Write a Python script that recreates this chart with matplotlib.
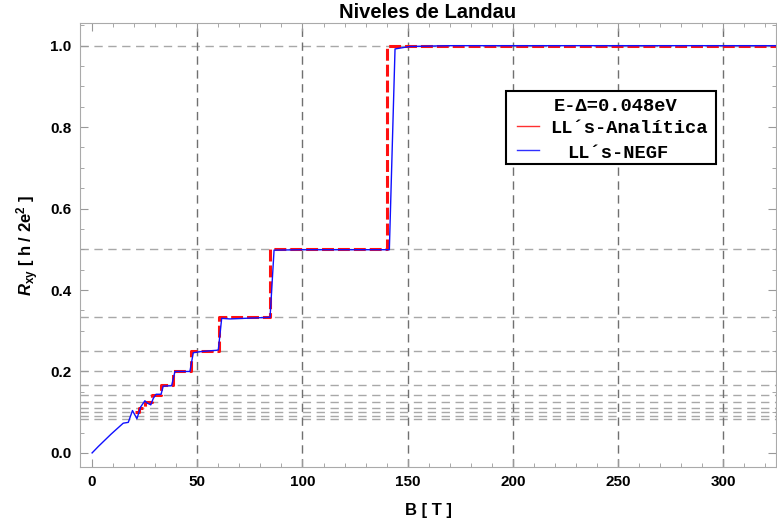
import matplotlib
matplotlib.use("Agg")
import matplotlib.pyplot as plt
from matplotlib.patches import Rectangle
from matplotlib.ticker import MultipleLocator

# Analytic Landau-level steps (step-post): B positions and plateau values
B_analytic = [20.3, 22.2, 25.0, 28.5, 32.7, 38.6, 47.0, 60.5, 84.6, 140.3, 325.0]
R_analytic = [0.100, 0.1111, 0.125, 0.1429, 0.1667, 0.200, 0.250, 0.3333, 0.500, 1.000, 1.000]

# NEGF curve
B_negf = [0.0, 3.0, 6.0, 9.0, 12.0, 14.8, 17.2, 19.2, 21.3, 23.1, 25.1, 26.0, 27.9, 29.1, 30.4,
          32.8, 33.8, 37.8, 39.4, 46.5, 48.1, 52.0, 59.2, 60.0, 61.6, 65.5, 75.0, 84.6,
          86.5, 100.0, 120.0, 141.3, 144.0, 151.0, 170.0, 250.0, 325.0]
R_negf = [0.0, 0.016, 0.031, 0.046, 0.060, 0.073, 0.075, 0.104, 0.084, 0.113, 0.128, 0.123,
          0.118, 0.134, 0.144, 0.144, 0.164, 0.165, 0.200, 0.200, 0.246, 0.249, 0.252, 0.253,
          0.3305, 0.329, 0.331, 0.333, 0.498, 0.499, 0.499, 0.499, 0.992, 0.998, 1.000, 1.000, 1.000]

# Plateau reference lines 1/n
plateaus = [1 / n for n in range(1, 13)]
xticks = [0, 50, 100, 150, 200, 250, 300]
yticks = [0.0, 0.2, 0.4, 0.6, 0.8, 1.0]
vgrid = [50, 100, 150, 200, 250, 300]

legend_title = 'E-\u0394=0.048eV'
legend_labels = ['LL\u00b4s-Anal\u00edtica', 'LL\u00b4s-NEGF']
legend_colors = ['#ff3030', '#3030ff']

plt.rcParams['font.family'] = ['Liberation Sans', 'DejaVu Sans']
plt.rcParams['mathtext.fontset'] = 'custom'
plt.rcParams['mathtext.it'] = 'Liberation Sans:bold:italic'
plt.rcParams['mathtext.rm'] = 'Liberation Sans:bold'
plt.rcParams['mathtext.bf'] = 'Liberation Sans:bold'

W, H = 777, 527
fig = plt.figure(figsize=(W / 100, H / 100), dpi=100)
AX_L, AX_R, AX_T, AX_B = 80, 776, 23, 467
ax = fig.add_axes([AX_L / W, (H - AX_B) / H, (AX_R - AX_L) / W, (AX_B - AX_T) / H])


def axpos(px, py):
    return (px - AX_L) / (AX_R - AX_L), (AX_B - py) / (AX_B - AX_T)


for p in plateaus:
    ax.axhline(p, color='#a8a8a8', lw=1.0, dashes=(6, 4), zorder=1)
for v in vgrid:
    ax.axvline(v, color='#707070', lw=1.0, dashes=(6, 4), zorder=1)

ax.plot(B_negf, R_negf, color='#1010ff', lw=1.0, zorder=3)
ax.plot(B_analytic, R_analytic, color='#ff1010', lw=2.2, dashes=(3.9, 1.3),
        drawstyle='steps-post', zorder=2)

ax.set_xlim(-5.75, 325.1)
ax.set_ylim(-0.0346, 1.0557)
ax.set_xticks(xticks)
ax.set_yticks(yticks)
ax.xaxis.set_minor_locator(MultipleLocator(10))
ax.yaxis.set_minor_locator(MultipleLocator(0.05))
ax.tick_params(which='both', direction='in', top=True, right=True, colors='#999999',
               labelcolor='black', labelsize=11)
ax.tick_params(which='major', length=6, pad=6)
ax.tick_params(which='minor', length=3)
ax.set_xticklabels([str(t) for t in xticks], fontweight='bold')
ax.set_yticklabels([f"{t:.1f}" for t in yticks], fontweight='bold')
for s in ax.spines.values():
    s.set_color('#aaaaaa')

ax.set_title('Niveles de Landau', fontweight='bold', fontsize=14.5, pad=3.6)
ax.set_xlabel('B [ T ]', fontweight='bold', fontsize=12, labelpad=10)
ax.set_ylabel(r'$R_{\mathrm{xy}}$ [ h / 2e$^{\mathrm{2}}$ ]', fontweight='bold', fontsize=12,
              labelpad=7)

# Legend box drawn by hand (layout positions in pixels -> axes fraction)
x0, y0 = axpos(506, 164)
x1, y1 = axpos(716, 90.7)
ax.add_patch(Rectangle((x0, y0), x1 - x0, y1 - y0, transform=ax.transAxes,
                       facecolor='white', edgecolor='black', lw=1.5, zorder=5))
lfont = dict(family='Liberation Mono', weight='bold', size=13.5)
tx, ty = axpos(554, 110.7)
ax.text(tx, ty, legend_title, transform=ax.transAxes, va='baseline', ha='left',
        zorder=6, **lfont)
rows = [(125.7, 133.3, 550), (150.0, 158.3, 567)]
for (ly, by, txp), lab, col in zip(rows, legend_labels, legend_colors):
    hx0, hy = axpos(516.7, ly)
    hx1, _ = axpos(539.3, ly)
    ax.plot([hx0, hx1], [hy, hy], transform=ax.transAxes, color=col, lw=1.0, zorder=6)
    tx, ty = axpos(txp, by)
    ax.text(tx, ty, lab, transform=ax.transAxes, va='baseline', ha='left', zorder=6, **lfont)

fig.savefig('out.png', dpi=100)
